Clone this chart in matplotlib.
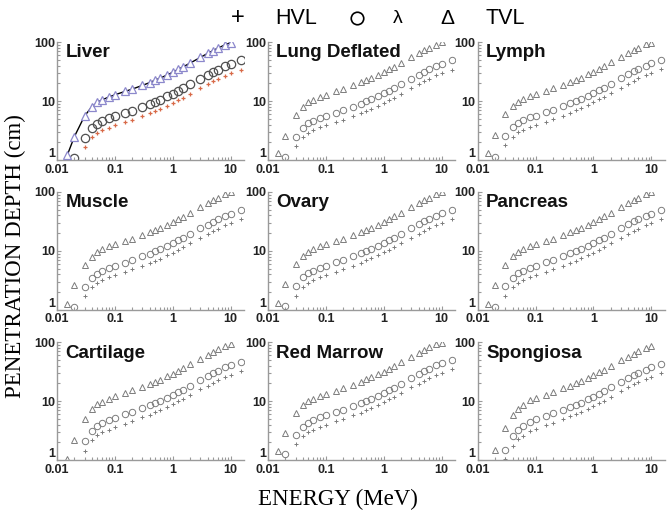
import numpy as np
import matplotlib.pyplot as plt
from matplotlib.lines import Line2D

nan = np.nan

# photon energies (MeV)
energy = [0.015, 0.02, 0.03, 0.04, 0.05, 0.06, 0.08, 0.1, 0.15, 0.2, 0.3, 0.4, 0.5,
          0.6, 0.8, 1, 1.25, 1.5, 2, 3, 4, 5, 6, 8, 10, 15]

tissues = ['Liver', 'Lung Deflated', 'Lymph', 'Muscle', 'Ovary', 'Pancreas',
           'Cartilage', 'Red Marrow', 'Spongiosa']

# penetration depths (cm); nan = off scale
liver_tvl = [1.2, 2.5, 5.6, 8.0, 9.5, 10.5, 11.8, 12.8, 14.6, 16.0, 18.5, 20.6, 22.6, 24.4, 27.7, 30.8, 34.5, 37.9, 44.1, 55.0, 64.2, 72.0, 78.8, 89.8, 98.0, nan]
liver_lam = [nan, 1.1, 2.4, 3.5, 4.1, 4.6, 5.1, 5.6, 6.3, 6.9, 8.0, 8.9, 9.8, 10.6, 12.0, 13.4, 15.0, 16.5, 19.2, 23.9, 27.9, 31.3, 34.2, 39.0, 42.6, 49.0]
liver_hvl = [nan, nan, 1.65, 2.45, 2.85, 3.2, 3.55, 3.9, 4.4, 4.8, 5.55, 6.2, 6.8, 7.35, 8.35, 9.3, 10.4, 11.4, 13.3, 16.6, 19.3, 21.7, 23.7, 27.0, 29.5, 34.0]

lung_tvl = [1.3, 2.6, 5.8, 8.1, 9.6, 10.6, 11.9, 12.9, 14.7, 16.1, 18.6, 20.8, 22.8, 24.6, 27.9, 31.0, 34.8, 38.2, 44.5, 55.4, 64.7, 72.6, 79.4, 90.5, 98.8, nan]
lung_lam = [nan, 1.15, 2.5, 3.5, 4.2, 4.6, 5.2, 5.6, 6.4, 7.0, 8.1, 9.0, 9.9, 10.7, 12.1, 13.5, 15.1, 16.6, 19.3, 24.1, 28.1, 31.5, 34.5, 39.3, 42.9, 49.4]
lung_hvl = [nan, nan, 1.75, 2.45, 2.9, 3.2, 3.6, 3.9, 4.45, 4.85, 5.6, 6.25, 6.85, 7.4, 8.4, 9.35, 10.5, 11.5, 13.4, 16.7, 19.5, 21.8, 23.9, 27.2, 29.7, 34.2]

lymph_tvl = [1.3, 2.7, 6.0, 8.3, 9.8, 10.8, 12.2, 13.2, 15.0, 16.4, 19.0, 21.2, 23.2, 25.0, 28.4, 31.6, 35.4, 38.9, 45.3, 56.4, 65.9, 73.9, 80.9, 92.2, 97.5, nan]
lymph_lam = [nan, 1.15, 2.6, 3.6, 4.3, 4.7, 5.3, 5.7, 6.5, 7.1, 8.2, 9.2, 10.1, 10.9, 12.3, 13.7, 15.4, 16.9, 19.7, 24.5, 28.6, 32.1, 35.1, 40.0, 43.7, 50.3]
lymph_hvl = [nan, nan, 1.8, 2.5, 2.95, 3.3, 3.7, 4.0, 4.5, 4.95, 5.7, 6.35, 7.0, 7.55, 8.55, 9.5, 10.7, 11.7, 13.7, 17.0, 19.8, 22.3, 24.3, 27.7, 30.3, 34.9]

muscle_tvl = [1.25, 2.6, 5.7, 8.0, 9.5, 10.6, 11.9, 12.9, 14.7, 16.1, 18.6, 20.7, 22.7, 24.5, 27.8, 31.0, 34.7, 38.1, 44.3, 55.2, 64.5, 72.4, 79.2, 90.3, 98.5, nan]
muscle_lam = [nan, 1.1, 2.45, 3.5, 4.1, 4.6, 5.15, 5.6, 6.35, 7.0, 8.1, 9.0, 9.85, 10.65, 12.1, 13.45, 15.1, 16.55, 19.25, 24.0, 28.0, 31.4, 34.4, 39.2, 42.8, 49.2]
muscle_hvl = [nan, nan, 1.7, 2.4, 2.85, 3.2, 3.55, 3.9, 4.4, 4.85, 5.6, 6.2, 6.8, 7.4, 8.4, 9.3, 10.45, 11.45, 13.35, 16.6, 19.4, 21.8, 23.8, 27.2, 29.7, 34.1]

ovary_tvl = [1.3, 2.7, 5.9, 8.2, 9.7, 10.7, 12.0, 13.0, 14.8, 16.2, 18.7, 20.9, 22.9, 24.7, 28.0, 31.2, 35.0, 38.4, 44.7, 55.6, 65.0, 72.9, 79.8, 91.0, 99.0, nan]
ovary_lam = [nan, 1.15, 2.55, 3.55, 4.2, 4.65, 5.2, 5.65, 6.4, 7.05, 8.15, 9.1, 9.95, 10.75, 12.2, 13.55, 15.2, 16.7, 19.4, 24.2, 28.2, 31.7, 34.7, 39.5, 43.1, 49.6]
ovary_hvl = [nan, nan, 1.75, 2.45, 2.9, 3.25, 3.6, 3.9, 4.45, 4.9, 5.65, 6.3, 6.9, 7.45, 8.45, 9.4, 10.55, 11.55, 13.45, 16.75, 19.55, 21.95, 24.0, 27.4, 29.9, 34.4]

pancreas_tvl = [1.25, 2.6, 5.8, 8.1, 9.6, 10.7, 12.0, 13.0, 14.8, 16.2, 18.7, 20.9, 22.9, 24.7, 28.0, 31.1, 34.9, 38.3, 44.6, 55.5, 64.8, 72.8, 79.6, 90.8, 99.0, nan]
pancreas_lam = [nan, 1.1, 2.5, 3.5, 4.15, 4.6, 5.2, 5.6, 6.4, 7.0, 8.1, 9.05, 9.9, 10.7, 12.15, 13.5, 15.15, 16.65, 19.35, 24.1, 28.1, 31.6, 34.6, 39.4, 43.0, 49.5]
pancreas_hvl = [nan, nan, 1.7, 2.45, 2.9, 3.2, 3.6, 3.9, 4.45, 4.85, 5.6, 6.25, 6.85, 7.45, 8.45, 9.35, 10.5, 11.5, 13.4, 16.7, 19.5, 21.9, 23.95, 27.3, 29.8, 34.3]

cartilage_tvl = [1.05, 2.2, 5.0, 7.3, 8.8, 9.8, 11.1, 12.1, 13.9, 15.2, 17.6, 19.6, 21.5, 23.2, 26.4, 29.4, 32.9, 36.2, 42.1, 52.5, 61.3, 68.8, 75.3, 85.8, 93.7, nan]
cartilage_lam = [nan, nan, 2.15, 3.15, 3.8, 4.25, 4.8, 5.25, 6.0, 6.6, 7.65, 8.5, 9.35, 10.1, 11.45, 12.75, 14.3, 15.7, 18.3, 22.8, 26.6, 29.9, 32.7, 37.3, 40.7, 46.8]
cartilage_hvl = [nan, nan, 1.45, 2.2, 2.65, 2.95, 3.3, 3.65, 4.15, 4.55, 5.3, 5.9, 6.5, 7.0, 7.95, 8.85, 9.9, 10.9, 12.7, 15.8, 18.4, 20.7, 22.7, 25.9, 28.2, 32.5]

marrow_tvl = [1.45, 2.9, 6.2, 8.5, 10.0, 11.0, 12.3, 13.3, 15.1, 16.5, 19.1, 21.3, 23.3, 25.2, 28.6, 31.8, 35.6, 39.1, 45.5, 56.7, 66.2, 74.3, 81.3, 92.7, 98.0, nan]
marrow_lam = [nan, 1.25, 2.7, 3.7, 4.35, 4.8, 5.35, 5.8, 6.55, 7.2, 8.3, 9.25, 10.1, 10.95, 12.4, 13.8, 15.5, 17.0, 19.8, 24.6, 28.8, 32.3, 35.3, 40.3, 43.9, 50.5]
marrow_hvl = [nan, nan, 1.85, 2.55, 3.0, 3.3, 3.7, 4.0, 4.55, 5.0, 5.75, 6.4, 7.0, 7.6, 8.6, 9.55, 10.7, 11.8, 13.7, 17.1, 19.9, 22.4, 24.5, 27.9, 30.4, 35.0]

spongiosa_tvl = [nan, 1.5, 3.5, 5.9, 7.5, 8.7, 10.3, 11.2, 12.9, 14.2, 16.5, 18.4, 20.2, 21.8, 24.8, 27.6, 30.9, 34.0, 39.5, 49.0, 57.0, 63.8, 69.6, 79.0, 86.0, nan]
spongiosa_lam = [nan, nan, 1.5, 2.55, 3.25, 3.75, 4.45, 4.9, 5.6, 6.2, 7.15, 8.0, 8.75, 9.45, 10.75, 12.0, 13.4, 14.75, 17.15, 21.3, 24.8, 27.7, 30.2, 34.3, 37.3, 42.6]
spongiosa_hvl = [nan, nan, 1.05, 1.75, 2.25, 2.6, 3.1, 3.4, 3.9, 4.3, 4.95, 5.55, 6.05, 6.55, 7.45, 8.3, 9.3, 10.2, 11.9, 14.75, 17.2, 19.2, 20.9, 23.8, 25.9, 29.5]

tvl_sets = [liver_tvl, lung_tvl, lymph_tvl, muscle_tvl, ovary_tvl, pancreas_tvl, cartilage_tvl, marrow_tvl, spongiosa_tvl]
lam_sets = [liver_lam, lung_lam, lymph_lam, muscle_lam, ovary_lam, pancreas_lam, cartilage_lam, marrow_lam, spongiosa_lam]
hvl_sets = [liver_hvl, lung_hvl, lymph_hvl, muscle_hvl, ovary_hvl, pancreas_hvl, cartilage_hvl, marrow_hvl, spongiosa_hvl]

plt.rcParams['font.family'] = ['Liberation Sans', 'DejaVu Sans']

fig = plt.figure(figsize=(6.7, 5.2), dpi=100)

lefts = [0.085, 0.400, 0.713]
bottoms = [0.692, 0.404, 0.115]
w, h = 0.279, 0.227
grey = '#7c7c7c'
axcol = '#9a9a9a'

for i, name in enumerate(tissues):
    ax = fig.add_axes([lefts[i % 3], bottoms[i // 3], w, h])
    if i == 0:
        # liver panel is drawn in colour with a line through the TVL points
        ax.plot(energy, tvl_sets[i], '-', color='black', lw=1.0, zorder=2)
        ax.plot(energy, tvl_sets[i], '^', ms=6, mfc='white', mec='#8c88cc', mew=0.9, zorder=3)
        ax.plot(energy, lam_sets[i], 'o', ms=6, mfc='none', mec='#505050', mew=0.9)
        ax.plot(energy, hvl_sets[i], '+', ms=3.5, color='#d86a48', mew=0.9)
    else:
        ax.plot(energy, tvl_sets[i], '^', ms=4.8, mfc='none', mec=grey, mew=0.7)
        ax.plot(energy, lam_sets[i], 'o', ms=4.6, mfc='none', mec=grey, mew=0.7)
        ax.plot(energy, hvl_sets[i], '+', ms=3.2, color=grey, mew=0.7)
    ax.set_xscale('log')
    ax.set_yscale('log')
    ax.set_xlim(0.01, 17)
    ax.set_ylim(1, 100)
    ax.set_xticks([0.01, 0.1, 1, 10])
    ax.set_xticklabels(['0.01', '0.1', '1', '10'])
    ax.set_yticks([1, 10, 100])
    ax.set_yticklabels(['1', '10', '100'])
    for s in ['top', 'right']:
        ax.spines[s].set_visible(False)
    for s in ['left', 'bottom']:
        ax.spines[s].set_color(axcol)
        ax.spines[s].set_linewidth(1.0)
    ax.tick_params(which='both', direction='in', color=axcol, labelsize=9, width=0.8)
    ax.tick_params(axis='x', pad=2.5)
    ax.tick_params(axis='y', pad=1.5)
    ax.tick_params(which='major', length=3)
    ax.tick_params(which='minor', length=2)
    for lab in ax.get_xticklabels() + ax.get_yticklabels():
        lab.set_fontweight('bold')
        lab.set_color('#222222')
    # keep the bottom "1" clear of the "0.01" below it
    ax.get_yticklabels()[0].set_verticalalignment('bottom')
    ax.text(0.045, 0.98, name, transform=ax.transAxes, ha='left', va='top',
            fontsize=13.5, fontweight='bold', color='#111111')

# legend row across the top
ly = 0.965
fig.text(0.355, ly, '+', fontsize=17, ha='center', va='center')
fig.text(0.442, ly, 'HVL', fontsize=15.5, ha='center', va='center')
fig.add_artist(Line2D([0.533], [ly], marker='o', ms=9, mfc='none', mec='black',
                      mew=1.2, transform=fig.transFigure))
fig.text(0.594, ly, 'λ', fontsize=14, ha='center', va='center')
fig.text(0.667, ly, 'Δ', fontsize=15, ha='center', va='center')
fig.text(0.754, ly, 'TVL', fontsize=15.5, ha='center', va='center')

fig.text(0.023, 0.508, 'PENETRATION DEPTH (cm)', rotation=90, ha='center', va='center',
         fontsize=16.5, family='Liberation Serif')
fig.text(0.505, 0.040, 'ENERGY (MeV)', ha='center', va='center',
         fontsize=16.5, family='Liberation Serif')

plt.savefig('out.png', dpi=100)
